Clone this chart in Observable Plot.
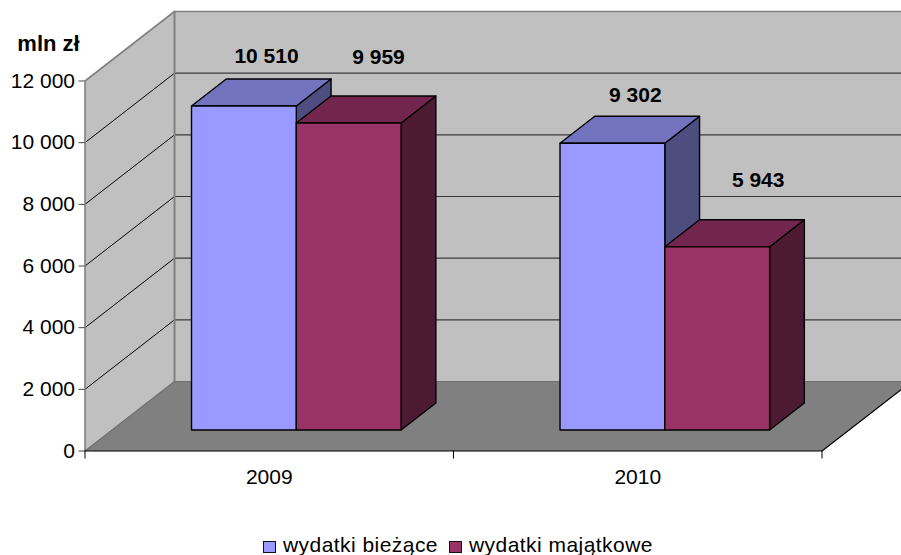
<!DOCTYPE html>
<html><head><meta charset="utf-8">
<style>
html,body{margin:0;padding:0;background:#fff;overflow:hidden}
#legend{position:relative;height:45px;font:21px "Liberation Sans",Arial,sans-serif;color:#000;letter-spacing:.45px}
.it{position:absolute;top:23px;white-space:nowrap;line-height:23px}
.sw{position:absolute;top:31px;width:11px;height:10px;border:1.5px solid #111}
</style>
<script src="https://cdn.jsdelivr.net/npm/d3@7"></script>
<script src="https://cdn.jsdelivr.net/npm/@observablehq/plot@0.6"></script>
</head><body>
<div id="chart"></div>
<div id="legend"></div>
<script>
const years = ["2009", "2010"];
const seriesNames = ["wydatki bieżące", "wydatki majątkowe"];
const biezace = [10510, 9302];
const majatkowe = [9959, 5943];
const yTicks = [0, 2000, 4000, 6000, 8000, 10000, 12000];
const gridValues = [2000, 4000, 6000, 8000, 10000];

// colours per series: front, top, side
const palette = [
  {front: "#9999ff", top: "#7373bf", side: "#4d4d80"},
  {front: "#993366", top: "#73264d", side: "#4d1a33"}
];

// oblique projection of the 3D box: depth 1 = back wall, expressed in data units
const DX = 0.2429, DV = 2254;
const P = (x, v, z, id, fill) => ({x: x + z * DX, y: v + z * DV, id, fill});
const barW = 0.2844, gap = 0.2157, z1 = 0.302, z2 = 0.69;
const fmt = (d) => d3.format(",")(d).replace(/,/g, " ");

const poly = (id, fill, pts) => pts.map(([x, v, z]) => P(x, v, z, id, fill));

const rows = years.flatMap((yr, g) => [biezace[g], majatkowe[g]].map((v, s) => ({g, s, v, yr})));
const faces = rows.flatMap(({g, s, v}) => {
  const x0 = g + gap + s * barW, x1 = x0 + barW, c = palette[s], k = `${g}-${s}-`;
  return [
    ...poly(k + "side", c.side, [[x1, 0, z1], [x1, 0, z2], [x1, v, z2], [x1, v, z1]]),
    ...poly(k + "top", c.top, [[x0, v, z1], [x1, v, z1], [x1, v, z2], [x0, v, z2]]),
    ...poly(k + "front", c.front, [[x0, 0, z1], [x1, 0, z1], [x1, v, z1], [x0, v, z1]])
  ];
});

const maxV = yTicks[yTicks.length - 1];
const walls = [
  ...poly("side", "#c0c0c0", [[0, 0, 0], [0, 0, 1], [0, maxV, 1], [0, maxV, 0]]),
  ...poly("back", "#c0c0c0", [[0, 0, 1], [2, 0, 1], [2, maxV, 1], [0, maxV, 1]]),
  ...poly("floor", "#808080", [[0, 0, 0], [2, 0, 0], [2, 0, 1], [0, 0, 1]])
];
const seg = (pts) => pts.map(([x, v, z]) => P(x, v, z));
// label offsets from each bar's centre and value, in pixels
const labelDx = [[49.6, 56.8], [50, 68]];
const labelDy = [[-70.5, -86.4], [-68.7, -87]];

const marks = [
  Plot.line(walls, {x: "x", y: "y", z: "id", fill: "fill", stroke: "none", curve: "linear-closed"}),
  ...gridValues.map((v) => Plot.line(seg([[0, v, 1], [2, v, 1]]), {x: "x", y: "y", stroke: "#3a3a3a", strokeWidth: 1.2})),
  ...gridValues.map((v) => Plot.line(seg([[0, v, 0], [0, v, 1]]), {x: "x", y: "y", stroke: "#000", strokeWidth: 1})),
  Plot.line(seg([[0, 0, 0], [0, maxV, 0], [0, maxV, 1], [2, maxV, 1]]), {x: "x", y: "y", stroke: "#808080", strokeWidth: 1.6}),
  Plot.line(seg([[0, 0, 1], [0, maxV, 1]]), {x: "x", y: "y", stroke: "#808080", strokeWidth: 2}),
  Plot.line(seg([[0, 0, 0], [0, 0, 1], [2, 0, 1]]), {x: "x", y: "y", stroke: "#6e6e6e", strokeWidth: 1.2}),
  Plot.line(faces, {x: "x", y: "y", z: "id", fill: "fill", stroke: "#000", strokeWidth: 1.4, strokeLinejoin: "round", curve: "linear-closed"}),
  Plot.line(seg([[0, 0, 0], [2, 0, 0], [2, 0, 1]]), {x: "x", y: "y", stroke: "#000", strokeWidth: 1.2}),
  Plot.axisY({ticks: yTicks, tickFormat: fmt, tickSize: 6, tickPadding: 4, stroke: "#444", fill: "#000", fontSize: 21, label: null}),
  Plot.axisX({ticks: [0, 1, 2], tickFormat: () => "", tickSize: 8, stroke: "#000", label: null}),
  Plot.axisX({ticks: years.map((_, i) => i + 0.5), tickFormat: (d) => years[Math.floor(d)], tickSize: 0, tickPadding: 18, fill: "#000", fontSize: 21, label: null}),
  ...rows.map(({g, s, v}) => Plot.text([v], {
    x: () => g + gap + s * barW + barW / 2,
    y: (d) => d,
    text: (d) => fmt(d),
    dx: labelDx[g][s], dy: labelDy[g][s],
    fontSize: 21, fontWeight: "bold", fill: "#000"
  })),
  Plot.text(["mln zł"], {
    x: () => 0, y: () => maxV, text: (d) => d, dx: -36.5, dy: -37.5,
    fontSize: 22, fontWeight: "bold", fill: "#000"
  })
];

const plot = Plot.plot({
  width: 901, height: 510,
  marginLeft: 84.5, marginRight: 0, marginTop: 0, marginBottom: 59.5,
  style: {fontFamily: '"Liberation Sans",Arial,sans-serif', background: "#fff", color: "#000"},
  x: {type: "linear", domain: [0, 2], range: [84.5, 821.5], axis: null},
  y: {type: "linear", domain: [0, maxV], range: [450.5, 80.5], axis: null},
  color: {type: "identity"},
  marks
});
document.getElementById("chart").appendChild(plot);

const legendEl = document.getElementById("legend");
[[263, 283], [449, 469]].forEach(([sx, tx], i) => {
  const sw = document.createElement("span");
  sw.className = "sw"; sw.style.left = sx + "px"; sw.style.background = palette[i].front;
  const t = document.createElement("span");
  t.className = "it"; t.style.left = tx + "px"; t.textContent = seriesNames[i];
  legendEl.append(sw, t);
});
</script>
</body></html>
